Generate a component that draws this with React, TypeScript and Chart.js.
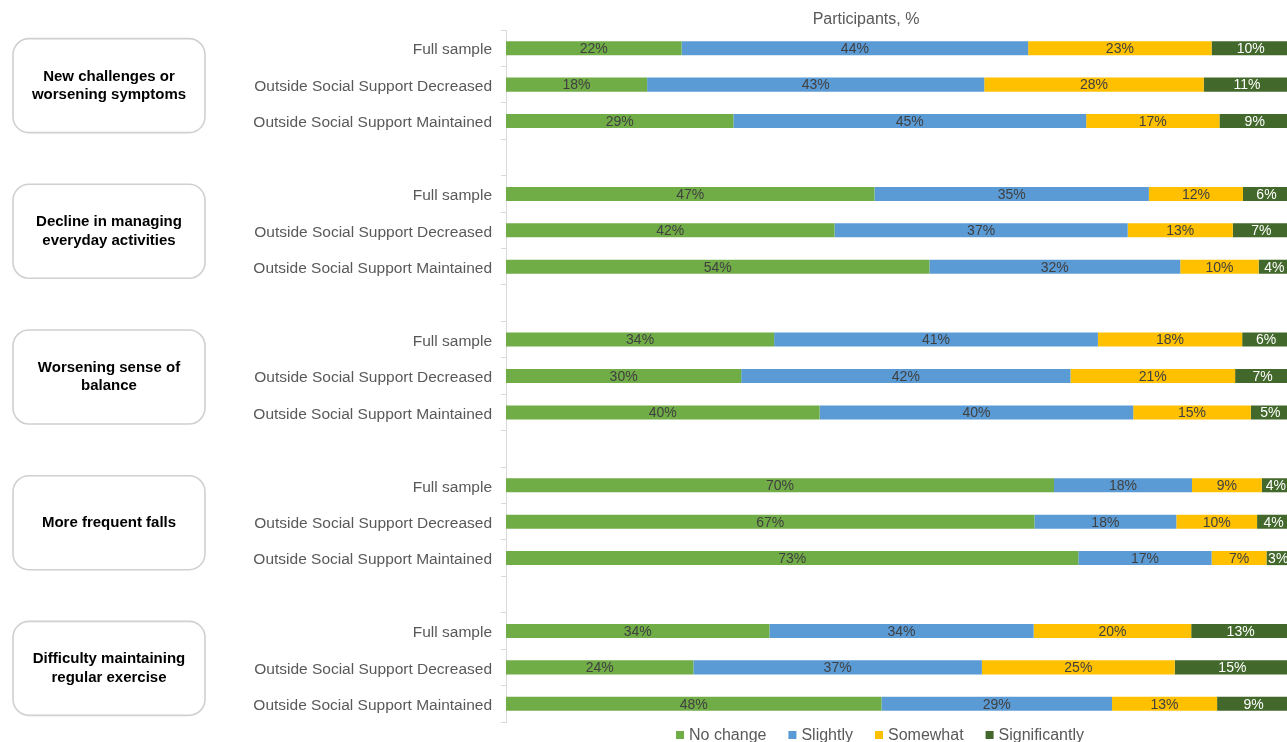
import { useEffect, useRef } from "react";
import { Chart, registerables } from "chart.js";

Chart.register(...registerables);

const rowLabels = [
  "Full sample",
  "Outside Social Support Decreased",
  "Outside Social Support Maintained",
];

const groupNames = [
  ["New challenges or", "worsening symptoms"],
  ["Decline in managing", "everyday activities"],
  ["Worsening sense of", "balance"],
  ["More frequent falls"],
  ["Difficulty maintaining", "regular exercise"],
];

const categories = [
  ...rowLabels, "",
  ...rowLabels, "",
  ...rowLabels, "",
  ...rowLabels, "",
  ...rowLabels,
];

const seriesNames = ["No change", "Slightly", "Somewhat", "Significantly"];
const seriesColors = ["#70AD47", "#5B9BD5", "#FFC000", "#43682B"];
const labelColors = ["#404040", "#404040", "#404040", "#FFFFFF"];

// Values (labels show them rounded)
const noChange = [22.4, 18, 29, null, 47, 41.9, 54, null, 34.2, 30, 40, null, 69.9, 67.4, 73, null, 33.6, 23.9, 47.9];
const slightly = [44.2, 43, 45, null, 35, 37.4, 32, null, 41.3, 42, 40, null, 17.6, 18.1, 17, null, 33.7, 36.8, 29.4];
const somewhat = [23.4, 28, 17, null, 12, 13.4, 10, null, 18.4, 21, 15, null, 8.9, 10.3, 7, null, 20.1, 24.6, 13.4];
const significantly = [10.0, 11, 9, null, 6, 7.3, 4, null, 6.1, 7, 5, null, 3.6, 4.2, 3, null, 12.6, 14.7, 9.3];

const seriesValues = [noChange, slightly, somewhat, significantly];

const axisTitle = "Participants, %";

const FONT = "'Liberation Sans', Arial, sans-serif";

const dataLabelPlugin = {
  id: "dataLabels",
  afterDatasetsDraw(chart: any) {
    const ctx = chart.ctx;
    ctx.save();
    ctx.font = `14px ${FONT}`;
    ctx.textAlign = "center";
    ctx.textBaseline = "middle";
    chart.data.datasets.forEach((ds: any, di: number) => {
      const meta = chart.getDatasetMeta(di);
      meta.data.forEach((el: any, i: number) => {
        const v = ds.data[i];
        if (v === null || v === undefined) return;
        const p = el.getProps(["x", "y", "base"], true);
        ctx.fillStyle = labelColors[di];
        ctx.fillText(`${Math.round(v)}%`, (p.x + p.base) / 2, p.y + 1);
      });
    });
    ctx.restore();
  },
};

const groupBoxPlugin = {
  id: "groupBoxes",
  afterDraw(chart: any) {
    const ctx = chart.ctx;
    const yScale = chart.scales.y;
    ctx.save();
    groupNames.forEach((lines, g) => {
      const cy = yScale.getPixelForValue(g * 4 + 1) + 1;
      const x = 13, w = 192, h = 94, r = 16;
      const y = cy - h / 2;
      ctx.beginPath();
      ctx.roundRect(x, y, w, h, r);
      ctx.fillStyle = "#FFFFFF";
      ctx.fill();
      ctx.lineWidth = 1.6;
      ctx.strokeStyle = "#D0D0D0";
      ctx.stroke();
      ctx.fillStyle = "#000000";
      ctx.font = `bold 15px ${FONT}`;
      ctx.textAlign = "center";
      ctx.textBaseline = "middle";
      const lh = 18.5;
      const start = cy - ((lines.length - 1) * lh) / 2;
      lines.forEach((t, k) => ctx.fillText(t, x + w / 2, start + k * lh));
    });
    ctx.restore();
  },
};

const titleLegendPlugin = {
  id: "titleLegend",
  afterDraw(chart: any) {
    const ctx = chart.ctx;
    ctx.save();
    ctx.fillStyle = "#595959";
    ctx.font = `16px ${FONT}`;
    ctx.textAlign = "center";
    ctx.textBaseline = "middle";
    ctx.fillText(axisTitle, 866, 20);

    // legend
    ctx.font = `16px ${FONT}`;
    const box = 8, gapText = 5, gapItem = 22;
    const widths = chart.data.datasets.map((d: any) => ctx.measureText(d.label).width);
    const total = widths.reduce((a: number, b: number) => a + b + box + gapText, 0) + gapItem * (widths.length - 1);
    let x = 880 - total / 2;
    const y = 735;
    ctx.textAlign = "left";
    chart.data.datasets.forEach((d: any, i: number) => {
      ctx.fillStyle = d.backgroundColor;
      ctx.fillRect(x, y - box / 2, box, box);
      x += box + gapText;
      ctx.fillStyle = "#595959";
      ctx.fillText(d.label, x, y + 1);
      x += widths[i] + gapItem;
    });
    ctx.restore();
  },
};

export default function App() {
  const ref = useRef<HTMLCanvasElement | null>(null);

  useEffect(() => {
    document.body.style.margin = "0";
    const canvas = ref.current;
    if (!canvas) return;
    const chart = new Chart(canvas, {
      type: "bar",
      data: {
        labels: categories,
        datasets: seriesNames.map((name, i) => ({
          label: name,
          data: seriesValues[i],
          backgroundColor: seriesColors[i],
          borderWidth: 0,
          barPercentage: 0.385,
          categoryPercentage: 1,
        })),
      },
      options: {
        indexAxis: "y",
        responsive: false,
        animation: false,
        layout: { padding: { top: 30, bottom: 20, left: 0, right: 0 } },
        plugins: {
          legend: { display: false },
          title: { display: false },
          tooltip: { enabled: false },
        },
        scales: {
          x: {
            stacked: true,
            display: false,
            min: 0,
            max: 100,
          },
          y: {
            stacked: true,
            afterFit(scale: any) {
              scale.width = 506;
            },
            ticks: {
              color: "#595959",
              font: { family: FONT, size: 15.5 },
              padding: 9,
              labelOffset: 2,
              autoSkip: false,
            },
            grid: {
              drawOnChartArea: false,
              drawTicks: true,
              tickLength: 5,
              color: "#D9D9D9",
              offset: true,
            },
            border: { color: "#D9D9D9", width: 1 },
          },
        },
      },
      plugins: [dataLabelPlugin, groupBoxPlugin, titleLegendPlugin],
    } as any);
    return () => chart.destroy();
  }, []);

  return (
    <div style={{ width: 1287, height: 742, overflow: "hidden", position: "relative" }}>
      <canvas ref={ref} width={1290} height={742} style={{ display: "block", width: 1290, height: 742 }} />
    </div>
  );
}
